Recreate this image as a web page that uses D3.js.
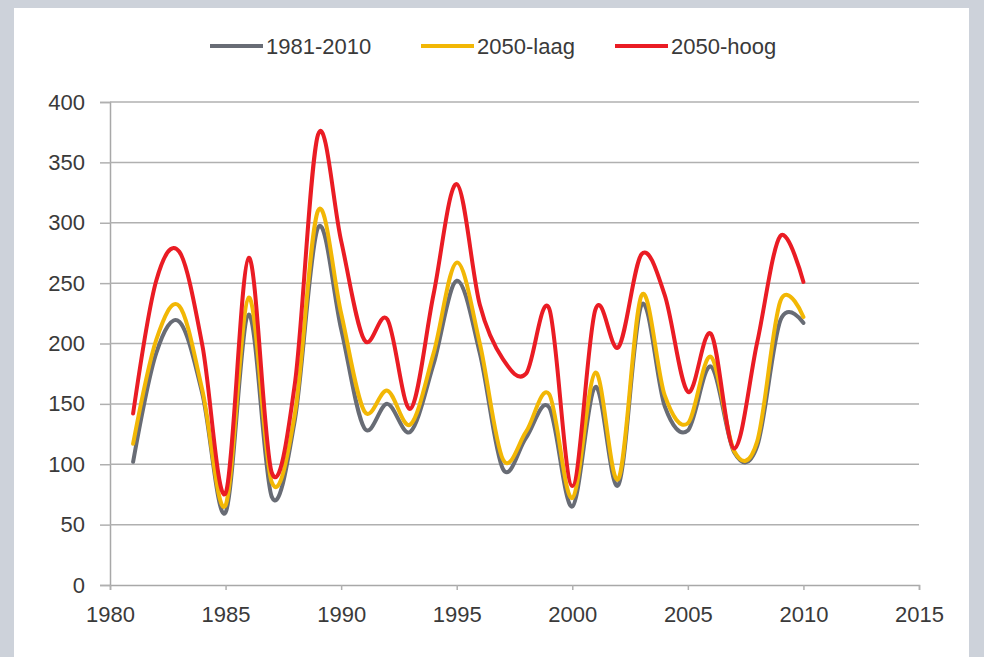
<!DOCTYPE html>
<html>
<head>
<meta charset="utf-8">
<script src="https://cdn.jsdelivr.net/npm/d3@7/dist/d3.min.js"></script>
<style>
  html, body { margin: 0; padding: 0; background: #cdd2da; }
  svg { display: block; }
  text { font-family: "Liberation Sans", Arial, sans-serif; fill: #3a3a3a; }
</style>
</head>
<body>
<svg id="chart" width="984" height="657"></svg>
<script>
const years = d3.range(1981, 2011);
const seriesNames = ["1981-2010", "2050-laag", "2050-hoog"];
const seriesColors = ["#686c75", "#f2b705", "#ea1c24"];
const ref19812010 = [102, 192, 218, 158, 60, 224, 73, 137, 296, 212, 130, 150, 127, 183, 252, 192, 96, 122, 147, 65, 164, 83, 232, 148, 128, 181, 110, 115, 219, 217];
const laag2050 = [117, 203, 231, 161, 66, 238, 85, 142, 310, 225, 144, 161, 133, 192, 267, 200, 104, 127, 158, 72, 176, 88, 240, 157, 134, 189, 111, 119, 235, 222];
const hoog2050 = [142, 252, 276, 198, 76, 271, 93, 167, 373, 285, 203, 220, 146, 241, 332, 232, 187, 175, 229, 82, 228, 197, 274, 240, 160, 208, 113, 201, 289, 251];
const xTicks = [1980, 1985, 1990, 1995, 2000, 2005, 2010, 2015];
const yTicks = [0, 50, 100, 150, 200, 250, 300, 350, 400];

const svg = d3.select("#chart");
svg.append("rect").attr("x", 14).attr("y", 8).attr("width", 955).attr("height", 649).attr("fill", "#ffffff");

const x = d3.scaleLinear().domain([1980, 2015]).range([110, 919]);
const y = d3.scaleLinear().domain([0, 400]).range([585, 102]);

const yAxis = d3.axisLeft(y).tickValues(yTicks).tickSize(10).tickPadding(15).tickFormat(d3.format("d"));
const gy = svg.append("g").attr("transform", "translate(110,0)").call(yAxis);
gy.select(".domain").attr("stroke", "#a8a8a8").attr("stroke-width", 1.5);
gy.selectAll(".tick line").attr("stroke", "#b0b0b0").attr("stroke-width", 1.5);
gy.selectAll(".tick text").style("font-size", "22px").attr("fill", "#3a3a3a");
svg.append("g").selectAll("line").data(yTicks.filter(d => d > 0)).join("line")
  .attr("x1", 110).attr("x2", 919).attr("y1", d => y(d)).attr("y2", d => y(d))
  .attr("stroke", "#b0b0b0").attr("stroke-width", 1.5);

const xAxis = d3.axisBottom(x).tickValues(xTicks).tickSize(5).tickPadding(16).tickFormat(d3.format("d"));
const gx = svg.append("g").attr("transform", "translate(0,585)").call(xAxis);
gx.select(".domain").attr("stroke", "#a8a8a8").attr("stroke-width", 1.5);
gx.selectAll(".tick line").attr("stroke", "#b0b0b0").attr("stroke-width", 1.5);
gx.selectAll(".tick text").style("font-size", "22px").attr("fill", "#3a3a3a");

const data = [ref19812010, laag2050, hoog2050];
const line = d3.line().x((d, i) => x(years[i])).y(d => y(d)).curve(d3.curveCardinal.tension(0));
svg.append("g").selectAll("path").data(data).join("path")
  .attr("d", d => line(d))
  .attr("fill", "none")
  .attr("stroke", (d, i) => seriesColors[i])
  .attr("stroke-width", 4)
  .attr("stroke-linejoin", "round")
  .attr("stroke-linecap", "round");

const legendX = [210, 421, 615];
const lg = svg.append("g").selectAll("g").data(seriesNames).join("g")
  .attr("transform", (d, i) => `translate(${legendX[i]},46)`);
lg.append("line").attr("x1", 0).attr("x2", 53).attr("y1", 0).attr("y2", 0)
  .attr("stroke", (d, i) => seriesColors[i]).attr("stroke-width", 4);
lg.append("text").attr("x", 56).attr("y", 0).attr("dy", "0.35em")
  .style("font-size", "22px").text(d => d);
</script>
</body>
</html>
